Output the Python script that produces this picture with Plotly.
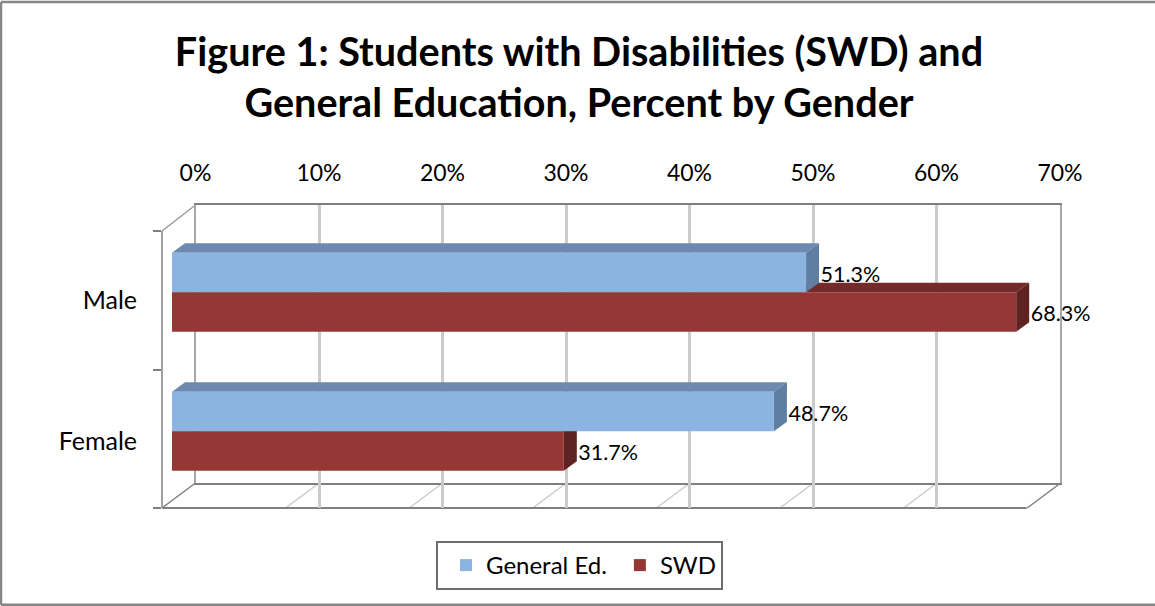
import plotly.graph_objects as go

categories = ["Male", "Female"]
series_names = ["General Ed.", "SWD"]
general_ed = [51.3, 48.7]
swd = [68.3, 31.7]
axis_ticks = [0, 10, 20, 30, 40, 50, 60, 70]
tick_labels = ["0%", "10%", "20%", "30%", "40%", "50%", "60%", "70%"]
title_text = "Figure 1: Students with Disabilities (SWD) and<br>General Education, Percent by Gender"

W, H = 1155, 606
FONT = "Lato"
BLUE, BLUE_TOP, BLUE_SIDE = "#8CB4E2", "#6D89AF", "#5F7FA2"
RED, RED_TOP, RED_SIDE = "#953735", "#722B29", "#5F2321"
GRID, FRAME = "#CBCBCB", "#7F7F7F"

def px(x): return x / W
def py(y): return 1 - y / H

# plot-area geometry in pixels
BACK_L, BACK_R, BACK_T, BACK_B = 195.5, 1060, 205, 483
FRONT_L, FRONT_B, FRONT_T = 162, 508, 231
BAR_L = 172
PX_PER_PCT = 12.36
BAND = 139.0
CENTER0 = 292.3           # y pixel of first category centre
BAR_H = 39.5
DX, DY = 13, 9.6          # bar depth

dx = DX / PX_PER_PCT
dy = DY / BAND
t = BAR_H / BAND
y_pos = list(range(len(categories)))

def depth_shapes(vals, shift, top_col, side_col):
    out = []
    for i, v in enumerate(vals):
        yt = y_pos[i] + shift - t
        yb = y_pos[i] + shift
        out.append(dict(type="path", xref="x2", yref="y2", layer="below", fillcolor=top_col, line_width=0,
                        path=f"M0,{yt} L{dx},{yt-dy} L{v+dx},{yt-dy} L{v},{yt} Z"))
        out.append(dict(type="path", xref="x2", yref="y2", layer="below", fillcolor=side_col, line_width=0,
                        path=f"M{v},{yt} L{v+dx},{yt-dy} L{v+dx},{yb-dy} L{v},{yb} Z"))
    return out

shapes = []
shapes += depth_shapes(swd, t, RED_TOP, RED_SIDE)
shapes += depth_shapes(general_ed, 0, BLUE_TOP, BLUE_SIDE)

def paper_line(x0, y0, x1, y1, color, width):
    return dict(type="line", xref="paper", yref="paper", x0=px(x0), y0=py(y0), x1=px(x1), y1=py(y1),
                layer="below", line=dict(color=color, width=width))

# floor diagonals
for tk in axis_ticks:
    xb = BACK_L + tk * PX_PER_PCT
    end = tk in (axis_ticks[0], axis_ticks[-1])
    shapes.append(paper_line(xb, BACK_B, xb - (BACK_L - FRONT_L), FRONT_B, FRAME if end else GRID, 1.5))
shapes.append(paper_line(FRONT_L, FRONT_B, BACK_R - (BACK_L - FRONT_L), FRONT_B, FRAME, 2))
shapes.append(paper_line(FRONT_L, FRONT_T, BACK_L, BACK_T, "#9A9A9A", 1.5))
# outer chart border
shapes.append(paper_line(1, 2, W, 2, "#868686", 2.5))
shapes.append(paper_line(1, 2, 1, 604.8, "#868686", 2.5))
shapes.append(paper_line(1, 604.8, W, 604.8, "#868686", 2.5))

fig = go.Figure()
# empty traces that bring the wall and front axes into the figure
fig.add_trace(go.Scatter(x=[], y=[], xaxis="x", yaxis="y", showlegend=False, hoverinfo="skip"))
fig.add_trace(go.Scatter(x=[], y=[], xaxis="x", yaxis="y3", showlegend=False, hoverinfo="skip"))
fig.add_trace(go.Bar(y=y_pos, x=general_ed, name=series_names[0], orientation="h", marker=dict(color=BLUE, line_width=0),
                     xaxis="x2", yaxis="y2"))
fig.add_trace(go.Bar(y=y_pos, x=swd, name=series_names[1], orientation="h", marker=dict(color=RED, line_width=0),
                     xaxis="x2", yaxis="y2"))
# data labels beside the depth face
label_dx = dx + 1.5 / PX_PER_PCT
for vals, off in ((general_ed, -t / 2 + 0.03), (swd, t / 2 + 0.026)):
    fig.add_trace(go.Scatter(x=[v + label_dx for v in vals], y=[p + off for p in y_pos],
                             text=[f"{v:.1f}%" for v in vals], mode="text", textposition="middle right",
                             textfont=dict(family=FONT, size=21.5, color="#000000"), cliponaxis=False,
                             showlegend=False, hoverinfo="skip", xaxis="x2", yaxis="y2"))

fig.update_layout(
    template="none",
    width=W, height=H, margin=dict(l=0, r=0, t=0, b=0, pad=0), autosize=False,
    paper_bgcolor="#FFFFFF", plot_bgcolor="rgba(0,0,0,0)",
    font=dict(family=FONT, size=22, color="#000000"),
    title=dict(text=title_text, x=579 / W, xanchor="center", y=py(66), yanchor="top", automargin=False,
               font=dict(family=FONT, size=39.6, color="#000000", weight="bold")),
    barmode="group", bargap=1 - 2 * t, bargroupgap=0,
    shapes=shapes,
    xaxis=dict(domain=[px(BACK_L), px(BACK_R)], range=[0, 70], anchor="y", side="top", automargin=False,
               tickmode="array", tickvals=axis_ticks, ticktext=tick_labels, ticks="",
               ticklabelstandoff=13, tickfont=dict(family=FONT, size=23),
               showgrid=True, gridcolor=GRID, gridwidth=2.5, zeroline=False,
               showline=True, linecolor=FRAME, linewidth=2, mirror=True),
    yaxis=dict(domain=[py(BACK_B), py(BACK_T)], range=[0, 1], anchor="x", showticklabels=False, ticks="",
               automargin=False, showgrid=False, zeroline=False, showline=True, linecolor="#A8A8A8", linewidth=2, mirror=True),
    xaxis2=dict(domain=[px(BAR_L), px(BAR_L + 70 * PX_PER_PCT)], range=[0, 70], anchor="y2", visible=False, automargin=False),
    yaxis2=dict(domain=[py(CENTER0 + 1.5 * BAND), py(CENTER0 - 0.5 * BAND)], range=[1.5, -0.5], anchor="x2", visible=False, automargin=False),
    yaxis3=dict(domain=[py(FRONT_B), py(FRONT_T)], range=[0, 2], anchor="free", position=px(FRONT_L), automargin=False,
                tickmode="array", tickvals=[0.484, 1.5], ticktext=categories[::-1], ticks="",
                ticklabelstandoff=19, tickfont=dict(family=FONT, size=25),
                minor=dict(tickmode="array", tickvals=[0, 1, 2], ticks="outside", ticklen=8, tickcolor=FRAME, tickwidth=1.5),
                showgrid=False, zeroline=False, showline=True, linecolor="#A0A0A0", linewidth=2),
    legend=dict(orientation="h", x=px(436), xanchor="left", y=py(541), yanchor="top", indentation=8,
                bordercolor="#6E6E6E", borderwidth=2, bgcolor="#FFFFFF",
                font=dict(family=FONT, size=24), itemclick=False, itemdoubleclick=False),
)

fig.write_html("out.html", config=dict(displayModeBar=False),
               post_script="document.body.style.margin='0';document.documentElement.style.overflow='hidden';")
